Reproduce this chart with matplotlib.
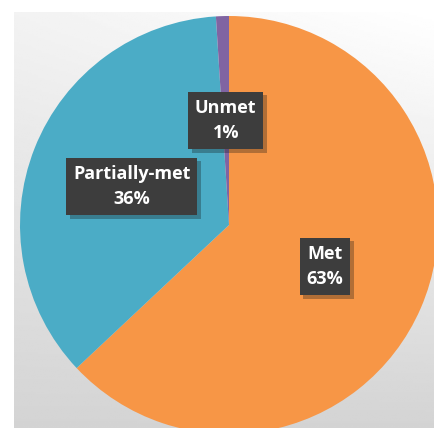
import numpy as np
import matplotlib.pyplot as plt
import matplotlib.patheffects as pe

# pie data
labels = ["Met", "Partially-met", "Unmet"]
values = [63, 36, 1]
colors = ["#F79646", "#4BACC6", "#8064A2"]

W, H = 435, 428
fig = plt.figure(figsize=(W / 100, H / 100), dpi=100)
fig.patch.set_facecolor("white")

# grey gradient panel behind the pie
bg = fig.add_axes([14 / W, 0, 1 - 14 / W, (H - 12) / H])
gx, gy = np.meshgrid(np.linspace(0, 1, 200), np.linspace(0, 1, 200))
shade = 0.83 + 0.12 * gy + 0.05 * gx * gy
bg.imshow(shade, cmap="gray", vmin=0, vmax=1, origin="lower",
          extent=[0, 1, 0, 1], aspect="auto")
bg.axis("off")

# pie axes: centre at (229, 225) px, radius 209 px
cx, cy, r = 229, 225, 209
ax = fig.add_axes([(cx - r) / W, (H - cy - r) / H, 2 * r / W, 2 * r / H])
wedges, texts, autotexts = ax.pie(
    values, colors=colors, startangle=90, counterclock=False,
    autopct="%1.0f%%", pctdistance=0.5, radius=1,
    wedgeprops=dict(linewidth=0),
    textprops=dict(color="white", fontsize=13, fontweight="bold",
                   family="Open Sans"))
ax.set_xlim(-1, 1)
ax.set_ylim(-1, 1)
ax.set_aspect("auto")
ax.axis("off")

for lab, t in zip(labels, autotexts):
    t.set_text(lab + "\n" + t.get_text())
    t.set_ha("center")
    t.set_va("center")
    t.set_linespacing(1.55)
    t.set_bbox(dict(boxstyle="square,pad=0.38", facecolor="#3d3d3d",
                    edgecolor="none"))
    t.get_bbox_patch().set_path_effects(
        [pe.SimplePatchShadow(offset=(2.5, -2.5), alpha=0.3), pe.Normal()])

fig.savefig("out.png", dpi=100)
